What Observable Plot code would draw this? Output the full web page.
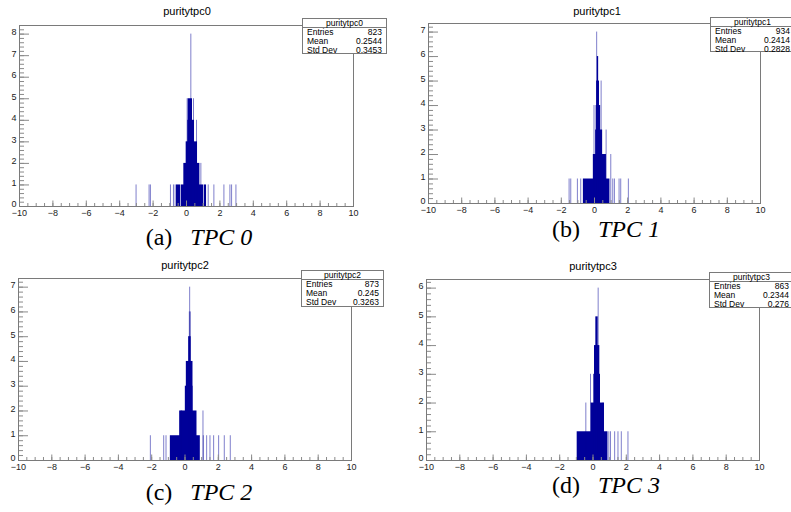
<!DOCTYPE html>
<html><head><meta charset="utf-8">
<script src="https://cdn.jsdelivr.net/npm/d3@7"></script>
<script src="https://cdn.jsdelivr.net/npm/@observablehq/plot@0.6"></script>
<style>
body{margin:0;background:#fff;}
#root{position:relative;width:791px;height:512px;overflow:hidden;font-family:"Liberation Sans",Arial,sans-serif;background:#fff;}
.panel{position:absolute;}
.title{position:absolute;font-size:11px;transform:translate(-50%,-50%);white-space:nowrap;color:#000;}
.stats{position:absolute;background:#fff;border:1px solid #7a7a7a;font-size:8.5px;box-sizing:border-box;color:#000;line-height:9px;}
.stats .hd{text-align:center;border-bottom:1px solid #7a7a7a;height:8px;line-height:8px;}
.stats .row{display:flex;justify-content:space-between;padding:0 4px 0 4px;height:9px;}
.cap{position:absolute;transform:translate(-50%,-50%);white-space:nowrap;font-family:"Liberation Serif","DejaVu Serif",serif;font-size:24px;color:#000;}
.cap i{margin-left:18px;}
</style></head>
<body><div id="root"></div>
<script>
// ---- data ----
const titles = ["puritytpc0", "puritytpc1", "puritytpc2", "puritytpc3"];
const capLetters = ["(a)", "(b)", "(c)", "(d)"];
const capNames = ["TPC 0", "TPC 1", "TPC 2", "TPC 3"];
const entries = ["823", "934", "873", "863"];
const means = ["0.2544", "0.2414", "0.245", "0.2344"];
const stdDevs = ["0.3453", "0.2828", "0.3263", "0.276"];
const xTicks = [-10, -8, -6, -4, -2, 0, 2, 4, 6, 8, 10];
const yMaxCounts = [8, 7, 7, 6];

// dense bin groups: [x from, x to, count]
const blocks0 = [[-0.6, -0.36, 1], [-0.32, 1.02, 1], [1.06, 1.2, 1], [-0.16, 0.8, 2], [0.0, 0.66, 3], [0.08, 0.48, 4], [0.1, 0.36, 5]];
const blocks1 = [[-0.67, 0.93, 1], [-0.07, 0.72, 2], [0.07, 0.49, 3], [0.1, 0.37, 4], [0.13, 0.3, 5], [0.17, 0.25, 6]];
const blocks2 = [[-0.88, 0.92, 1], [-0.32, 0.72, 2], [0.02, 0.48, 3], [0.08, 0.48, 4], [0.22, 0.37, 5]];
const blocks3 = [[-0.95, 0.62, 1], [0.66, 0.9, 1], [-0.11, 0.69, 2], [0.05, 0.45, 3], [0.09, 0.41, 4], [0.17, 0.31, 5]];
// isolated bins: [x, count]
const spikes0 = [[-3.02, 1], [-2.24, 1], [-2.16, 1], [-0.96, 1], [-0.78, 1], [-0.68, 1], [1.3, 1], [1.64, 1], [2.24, 1], [2.6, 1], [2.7, 1], [2.96, 1], [0.26, 8], [0.04, 5], [0.42, 5], [0.6, 4], [-0.04, 3], [0.86, 2]];
const spikes1 = [[0.13, 7], [-0.03, 4], [0.4, 5], [0.7, 3], [0.98, 2], [-1.53, 1], [-1.43, 1], [-1.03, 1], [-0.83, 1], [1.1, 1], [1.2, 1], [1.48, 1], [1.58, 1], [2.04, 1]];
const spikes2 = [[0.28, 7], [0.26, 6], [0.32, 6], [1.08, 2], [-0.24, 2], [-0.2, 2], [-2.08, 1], [-1.28, 1], [-1.14, 1], [1.1, 1], [1.3, 1], [1.5, 1], [1.72, 1], [2.02, 1], [2.36, 1], [2.72, 1]];
const spikes3 = [[0.31, 6], [-0.15, 3], [-0.43, 2], [0.6, 2], [0.95, 1], [1.05, 1], [1.3, 1], [1.5, 1], [1.7, 1], [2.1, 1]];

const blocks = [blocks0, blocks1, blocks2, blocks3];
const spikes = [spikes0, spikes1, spikes2, spikes3];

// ---- layout (positions / styles) ----
const layout = [
  {left: 0, top: 0, width: 395, height: 225, ml: 19, mr: 42, mt: 25, mb: 19, title: [187, 11], stats: [302, 18, 85, 36], cap: [199, 237]},
  {left: 400, top: 0, width: 391, height: 222, ml: 28, mr: 31, mt: 23, mb: 19, title: [597, 11], stats: [710, 17, 85, 35], cap: [606, 229]},
  {left: 0, top: 256, width: 395, height: 223, ml: 18, mr: 44, mt: 22, mb: 19, title: [185, 265], stats: [301, 270, 83, 37], cap: [199, 492]},
  {left: 400, top: 256, width: 391, height: 223, ml: 26, mr: 32, mt: 23, mb: 19, title: [593, 266], stats: [709, 272, 85, 36], cap: [606, 485]}
];
const NAVY = "#000099";
const AXIS = "#8a8a8a";

const root = document.getElementById("root");

layout.forEach((L, i) => {
  const fw = L.width - L.ml - L.mr;
  const fh = L.height - L.mt - L.mb;
  const ytop = yMaxCounts[i] * 1.05;
  const yMajor = d3.range(0, yMaxCounts[i] + 1);
  const yMinor = d3.range(0, Math.round(ytop / 0.2) + 1).map(k => +(k * 0.2).toFixed(2)).filter(v => v <= ytop + 1e-9);
  const xMinor = d3.range(0, 41).map(k => -10 + k * 0.5);

  const chart = Plot.plot({
    width: L.width, height: L.height,
    marginLeft: L.ml, marginRight: L.mr, marginTop: L.mt, marginBottom: L.mb,
    style: {fontFamily: "'Liberation Sans', Arial, sans-serif", background: "transparent", overflow: "visible"},
    x: {domain: [-10, 10], axis: null},
    y: {domain: [0, ytop], axis: null},
    marks: [
      Plot.rectY(blocks[i], {x1: d => d[0], x2: d => d[1], y1: 0, y2: d => d[2], fill: NAVY}),
      Plot.ruleX(spikes[i], {x: d => d[0], y1: 0, y2: d => d[1], stroke: NAVY, strokeOpacity: 0.5, strokeWidth: 1}),
      Plot.ruleX(xMinor, {x: d => d, stroke: AXIS, insetTop: fh - 3}),
      Plot.ruleX(xTicks, {x: d => d, stroke: AXIS, insetTop: fh - 5.5}),
      Plot.ruleY(yMinor, {y: d => d, stroke: AXIS, insetRight: fw - 5}),
      Plot.ruleY(yMajor, {y: d => d, stroke: AXIS, insetRight: fw - 10}),
      Plot.frame({stroke: "#7a7a7a"}),
      Plot.axisX(xTicks, {tickSize: 0, tickPadding: 3, fontSize: 9, fill: "#222"}),
      Plot.axisY(yMajor, {tickSize: 0, tickPadding: 3, fontSize: 9, fill: "#222", dy: -2})
    ]
  });
  const wrap = document.createElement("div");
  wrap.className = "panel";
  wrap.style.left = L.left + "px";
  wrap.style.top = L.top + "px";
  wrap.appendChild(chart);
  root.appendChild(wrap);

  const t = document.createElement("div");
  t.className = "title";
  t.style.left = L.title[0] + "px";
  t.style.top = L.title[1] + "px";
  t.textContent = titles[i];
  root.appendChild(t);

  const s = document.createElement("div");
  s.className = "stats";
  s.style.left = L.stats[0] + "px";
  s.style.top = L.stats[1] + "px";
  s.style.width = L.stats[2] + "px";
  s.style.height = L.stats[3] + "px";
  s.innerHTML = `<div class="hd">${titles[i]}</div>` +
    `<div class="row"><span>Entries</span><span>${entries[i]}</span></div>` +
    `<div class="row"><span>Mean</span><span>${means[i]}</span></div>` +
    `<div class="row"><span>Std Dev</span><span>${stdDevs[i]}</span></div>`;
  root.appendChild(s);

  const c = document.createElement("div");
  c.className = "cap";
  c.style.left = L.cap[0] + "px";
  c.style.top = L.cap[1] + "px";
  c.innerHTML = `<span>${capLetters[i]}</span><i>${capNames[i]}</i>`;
  root.appendChild(c);
});
</script>
</body></html>
